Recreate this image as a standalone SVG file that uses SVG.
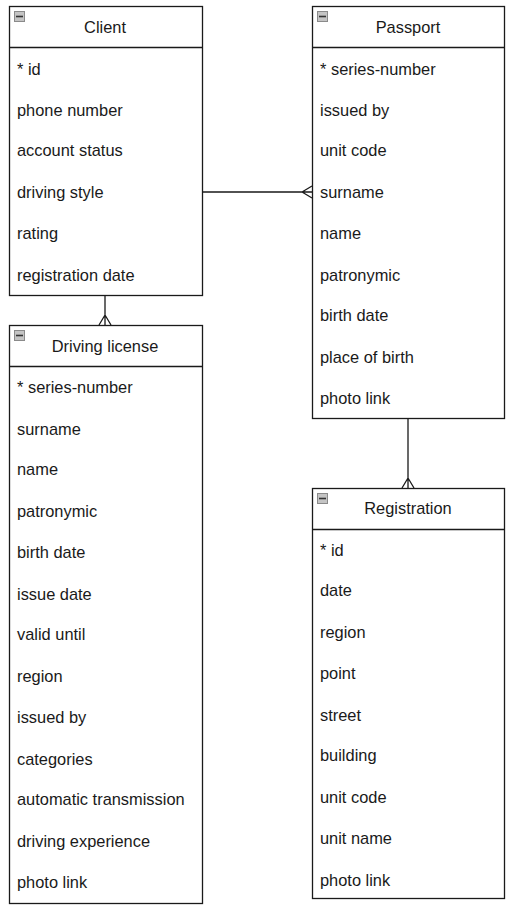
<svg xmlns="http://www.w3.org/2000/svg" width="513" height="908" viewBox="0 0 513 908">
<style>
.box{fill:#fff;stroke:#1a1a1a;stroke-width:1.3}
.div{stroke:#1a1a1a;stroke-width:1.3}
.t{font-family:"Liberation Sans",Arial,sans-serif;font-size:16.4px;fill:#1a1a1a;dominant-baseline:central}
.h{text-anchor:middle}
.ic{fill:#c4c4c4;stroke:#8a8a8a;stroke-width:1}
.icm{stroke:#333;stroke-width:1.6}
.c{fill:none;stroke:#1a1a1a;stroke-width:1.3}
</style>
<defs>
<g id="icon"><rect class="ic" x="0.5" y="0.5" width="10" height="10"/><line class="icm" x1="2" y1="5.5" x2="9" y2="5.5"/></g>
</defs>
<rect width="513" height="908" fill="#fff"/>
<g id="connectors">
<path class="c" d="M202 192 H312 M302 192 L312 186 M302 192 L312 198"/>
<path class="c" d="M105 295 V325 M105 315 L99 325 M105 315 L111 325"/>
<path class="c" d="M408 418 V488 M408 478 L402 488 M408 478 L414 488"/>
</g>
<g id="client">
<rect class="box" x="9.5" y="6.5" width="193" height="289"/>
<line class="div" x1="9.5" y1="47.5" x2="202.5" y2="47.5"/>
<use href="#icon" x="14" y="11"/>
<text class="t h" x="105" y="27">Client</text>
<text class="t" x="17" y="69">* id</text>
<text class="t" x="17" y="110">phone number</text>
<text class="t" x="17" y="150">account status</text>
<text class="t" x="17" y="192">driving style</text>
<text class="t" x="17" y="233">rating</text>
<text class="t" x="17" y="275">registration date</text>
</g>
<g id="passport">
<rect class="box" x="312.5" y="6.5" width="192" height="412"/>
<line class="div" x1="312.5" y1="47.5" x2="504.5" y2="47.5"/>
<use href="#icon" x="317" y="11"/>
<text class="t h" x="408" y="27">Passport</text>
<text class="t" x="320" y="69">* series-number</text>
<text class="t" x="320" y="110">issued by</text>
<text class="t" x="320" y="150">unit code</text>
<text class="t" x="320" y="192">surname</text>
<text class="t" x="320" y="233">name</text>
<text class="t" x="320" y="275">patronymic</text>
<text class="t" x="320" y="315">birth date</text>
<text class="t" x="320" y="357">place of birth</text>
<text class="t" x="320" y="398">photo link</text>
</g>
<g id="driving-license">
<rect class="box" x="9.5" y="325.5" width="193" height="578"/>
<line class="div" x1="9.5" y1="366.5" x2="202.5" y2="366.5"/>
<use href="#icon" x="14" y="330"/>
<text class="t h" x="105" y="346">Driving license</text>
<text class="t" x="17" y="387">* series-number</text>
<text class="t" x="17" y="429">surname</text>
<text class="t" x="17" y="469">name</text>
<text class="t" x="17" y="511">patronymic</text>
<text class="t" x="17" y="552">birth date</text>
<text class="t" x="17" y="594">issue date</text>
<text class="t" x="17" y="634">valid until</text>
<text class="t" x="17" y="676">region</text>
<text class="t" x="17" y="717">issued by</text>
<text class="t" x="17" y="759">categories</text>
<text class="t" x="17" y="799">automatic transmission</text>
<text class="t" x="17" y="841">driving experience</text>
<text class="t" x="17" y="882">photo link</text>
</g>
<g id="registration">
<rect class="box" x="312.5" y="488.5" width="192" height="410"/>
<line class="div" x1="312.5" y1="529.5" x2="504.5" y2="529.5"/>
<use href="#icon" x="317" y="493"/>
<text class="t h" x="408" y="508">Registration</text>
<text class="t" x="320" y="550">* id</text>
<text class="t" x="320" y="590">date</text>
<text class="t" x="320" y="632">region</text>
<text class="t" x="320" y="673">point</text>
<text class="t" x="320" y="715">street</text>
<text class="t" x="320" y="755">building</text>
<text class="t" x="320" y="797">unit code</text>
<text class="t" x="320" y="838">unit name</text>
<text class="t" x="320" y="880">photo link</text>
</g>
</svg>
